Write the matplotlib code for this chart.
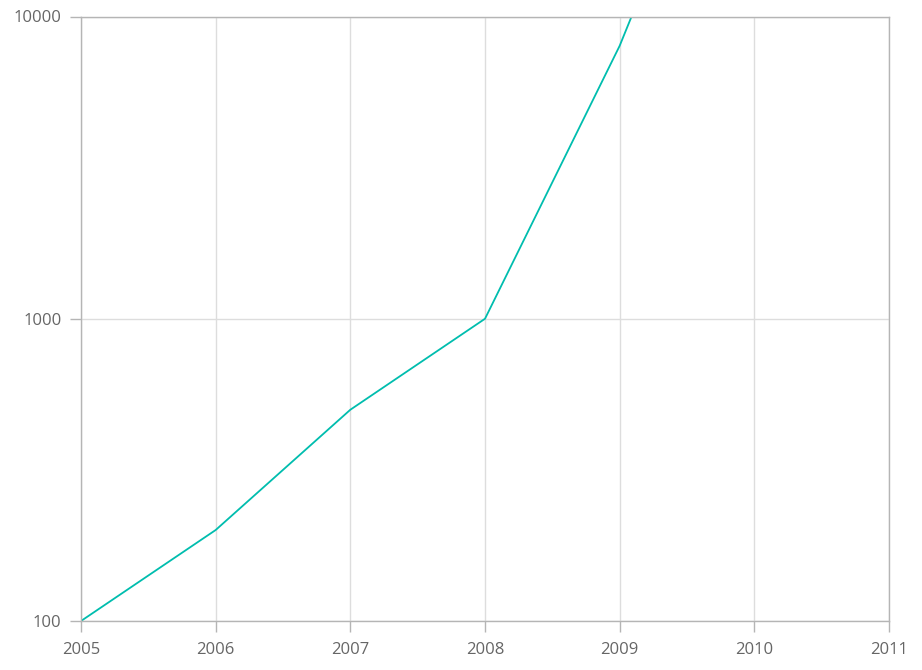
import numpy as np
import matplotlib
matplotlib.use("Agg")
import matplotlib.pyplot as plt

# data (last point runs off the top)
years = [2005, 2006, 2007, 2008, 2009, 2010]
values = [100, 200, 500, 1000, 8000, 100000]
x_ticks = [2005, 2006, 2007, 2008, 2009, 2010, 2011]
y_ticks = [100, 1000, 10000]

plt.rcParams['font.family'] = ['Open Sans', 'DejaVu Sans']

fig = plt.figure(figsize=(9.22, 6.70), dpi=100)
ax = fig.add_axes([81/922, 49/670, (889-81)/922, (621-16.5)/670])

ax.plot(years, values, color='#00bdae', lw=1.3, clip_on=True)

ax.set_yscale('log')
ax.set_xlim(2005, 2011)
ax.set_ylim(100, 10000)
ax.set_xticks(x_ticks)
ax.set_xticklabels([str(t) for t in x_ticks])
ax.set_yticks(y_ticks)
ax.set_yticklabels([str(t) for t in y_ticks])
ax.minorticks_off()

ax.grid(True, color='#dddddd', lw=1)
ax.set_axisbelow(True)
for s in ax.spines.values():
    s.set_color('#b5b5b5')
    s.set_linewidth(1)
ax.tick_params(axis='both', colors='#b5b5b5', labelcolor='#666666',
               labelsize=12, length=8, width=1)
ax.tick_params(axis='x', pad=7)
ax.tick_params(axis='y', pad=6)

fig.savefig('out.png', dpi=100)
